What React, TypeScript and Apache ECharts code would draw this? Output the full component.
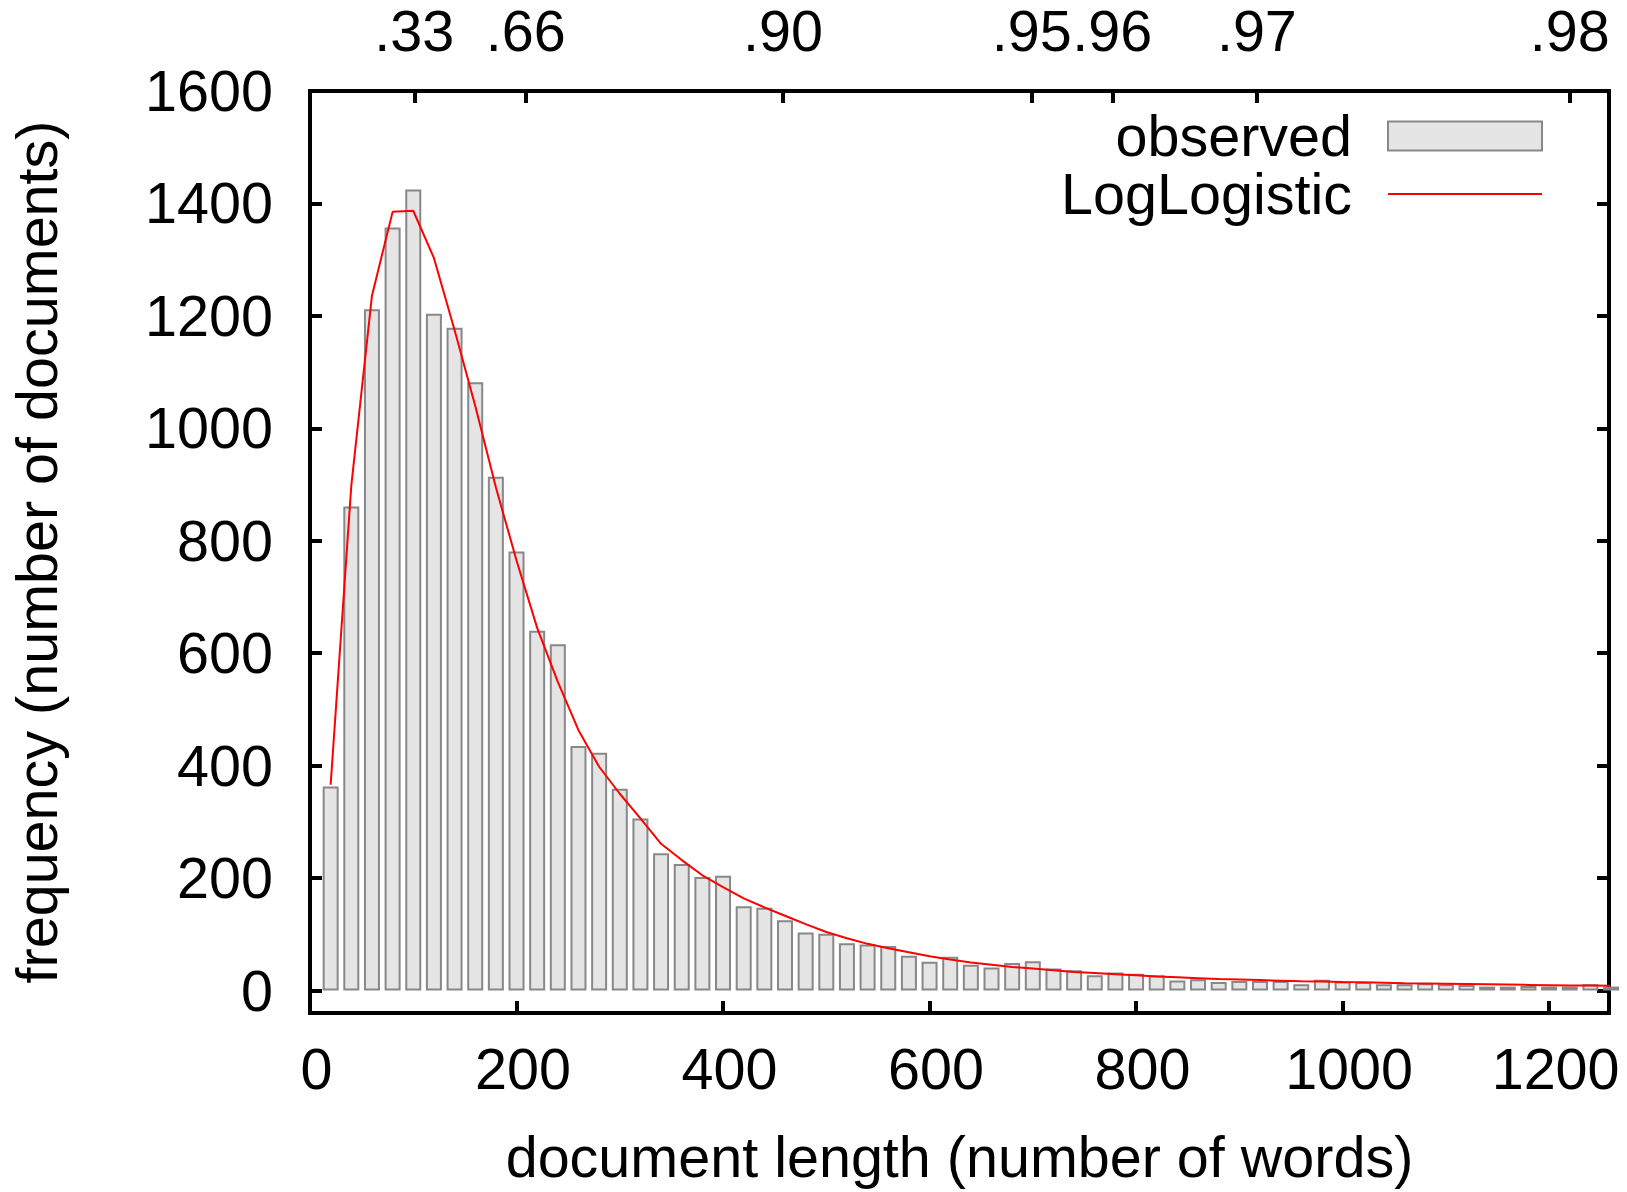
import React, { useEffect, useRef } from "react";
import * as echarts from "echarts";

// bin centres (number of words)
const binCenters = [
  20, 40, 60, 80, 100, 120, 140, 160, 180, 200,
  220, 240, 260, 280, 300, 320, 340, 360, 380, 400,
  420, 440, 460, 480, 500, 520, 540, 560, 580, 600,
  620, 640, 660, 680, 700, 720, 740, 760, 780, 800,
  820, 840, 860, 880, 900, 920, 940, 960, 980, 1000,
  1020, 1040, 1060, 1080, 1100, 1120, 1140, 1160, 1180, 1200,
  1220, 1240, 1260,
];

// observed frequencies
const observed = [
  363, 861, 1212, 1357, 1425, 1204, 1179, 1082, 914, 781,
  640, 616, 435, 423, 359, 306, 244, 225, 202, 204,
  150, 147, 125, 103, 101, 84, 82, 79, 62, 51,
  60, 46, 41, 49, 52, 39, 36, 27, 32, 30,
  27, 18, 20, 15, 17, 17, 17, 11, 19, 16,
  15, 11, 11, 13, 11, 10, 7, 7, 8, 7,
  7, 11, 7,
];

// fitted LogLogistic density (scaled)
const logLogistic = [
  366, 898, 1236, 1385, 1387, 1303, 1175, 1040, 895, 765,
  645, 549, 463, 398, 350, 306, 261, 232, 205, 184,
  164, 148, 133, 118, 104, 93, 83, 75, 68, 61,
  55, 50, 46, 42, 39, 36, 33, 31, 29, 27,
  25, 23.5, 22, 20.5, 19.5, 18.5, 17.5, 16.5, 16, 15,
  14.5, 14, 13, 12.5, 12, 11.5, 11, 10.5, 10, 9.5,
  9, 8.7, 8.3,
];

const yTicks = [0, 200, 400, 600, 800, 1000, 1200, 1400, 1600];
const xTicks = [0, 200, 400, 600, 800, 1000, 1200];
const quantilePositions = [101, 209, 458, 699, 777, 917, 1220];
const quantileLabels = [".33", ".66", ".90", ".95", ".96", ".97", ".98"];

export default function App() {
  const ref = useRef<HTMLDivElement>(null);

  useEffect(() => {
    if (!ref.current) return;
    const chart = echarts.init(ref.current, null, { renderer: "svg" });
    const font = "'Liberation Sans', Arial, Helvetica, sans-serif";
    const fs = 57.5;
    const tickStyle = { color: "#000", width: 4 };
    const labelStyle = { fontSize: fs, fontFamily: font, color: "#000" };
    const plain = (v: number) => String(v);

    chart.setOption({
      animation: false,
      backgroundColor: "#fff",
      grid: {
        left: 309,
        right: 18,
        top: 91,
        bottom: 179,
        show: true,
        borderColor: "#000",
        borderWidth: 4,
        backgroundColor: "transparent",
      },
      legend: {
        orient: "vertical",
        right: 79,
        top: 102,
        align: "right",
        itemWidth: 154,
        itemHeight: 29,
        itemGap: 0,
        data: [
          { name: "observed", icon: "rect" },
          { name: "LogLogistic", icon: "path://M0,0H154V2H0Z" },
        ],
        textStyle: {
          fontSize: fs,
          fontFamily: font,
          color: "#000",
          lineHeight: 57,
          padding: [0, 31, 0, 0],
        },
      },
      xAxis: [
        {
          type: "value",
          position: "bottom",
          min: 0,
          max: 1258,
          name: "document length (number of words)",
          nameLocation: "middle",
          nameGap: 115,
          nameTextStyle: labelStyle,
          axisLine: { show: false, onZero: false },
          axisTick: { show: true, inside: true, length: 12, lineStyle: tickStyle, customValues: xTicks },
          axisLabel: {
            ...labelStyle,
            margin: 27,
            padding: [0, 0, 0, 13],
            customValues: xTicks,
            formatter: plain,
          },
          splitLine: { show: false },
        },
        {
          type: "value",
          position: "top",
          min: 0,
          max: 1258,
          axisLine: { show: false, onZero: false },
          axisTick: { show: true, inside: true, length: 12, lineStyle: tickStyle, customValues: quantilePositions },
          axisLabel: {
            ...labelStyle,
            margin: 31,
            customValues: quantilePositions,
            formatter: (v: number) => {
              const i = quantilePositions.indexOf(v);
              return i >= 0 ? quantileLabels[i] : "";
            },
          },
          splitLine: { show: false },
        },
      ],
      yAxis: [
        {
          type: "value",
          position: "left",
          min: -40,
          max: 1600,
          name: "frequency (number of documents)",
          nameLocation: "middle",
          nameGap: 244,
          nameRotate: 90,
          nameTextStyle: labelStyle,
          axisLine: { show: false, onZero: false },
          axisTick: { show: true, inside: true, length: 12, lineStyle: tickStyle, customValues: yTicks },
          axisLabel: { ...labelStyle, margin: 37, customValues: yTicks, formatter: plain },
          splitLine: { show: false },
        },
        {
          type: "value",
          position: "right",
          min: -40,
          max: 1600,
          axisLine: { show: false, onZero: false },
          axisTick: { show: true, inside: true, length: 12, lineStyle: tickStyle, customValues: yTicks },
          axisLabel: { show: false },
          splitLine: { show: false },
        },
      ],
      series: [
        {
          name: "observed",
          type: "bar",
          xAxisIndex: 0,
          yAxisIndex: 0,
          barWidth: 16,
          clip: true,
          data: binCenters.map((x, i) => [x, observed[i]]),
          itemStyle: { color: "#e5e5e5", borderColor: "#888888", borderWidth: 2 },
        },
        {
          name: "LogLogistic",
          type: "line",
          xAxisIndex: 0,
          yAxisIndex: 0,
          symbol: "none",
          clip: true,
          data: binCenters.map((x, i) => [x, logLogistic[i]]),
          lineStyle: { color: "#ff0000", width: 2 },
          itemStyle: { color: "#ff0000" },
        },
      ],
    });

    return () => chart.dispose();
  }, []);

  return (
    <div
      ref={ref}
      style={{ position: "fixed", left: 0, top: 0, width: 1627, height: 1192, background: "#fff" }}
    />
  );
}
